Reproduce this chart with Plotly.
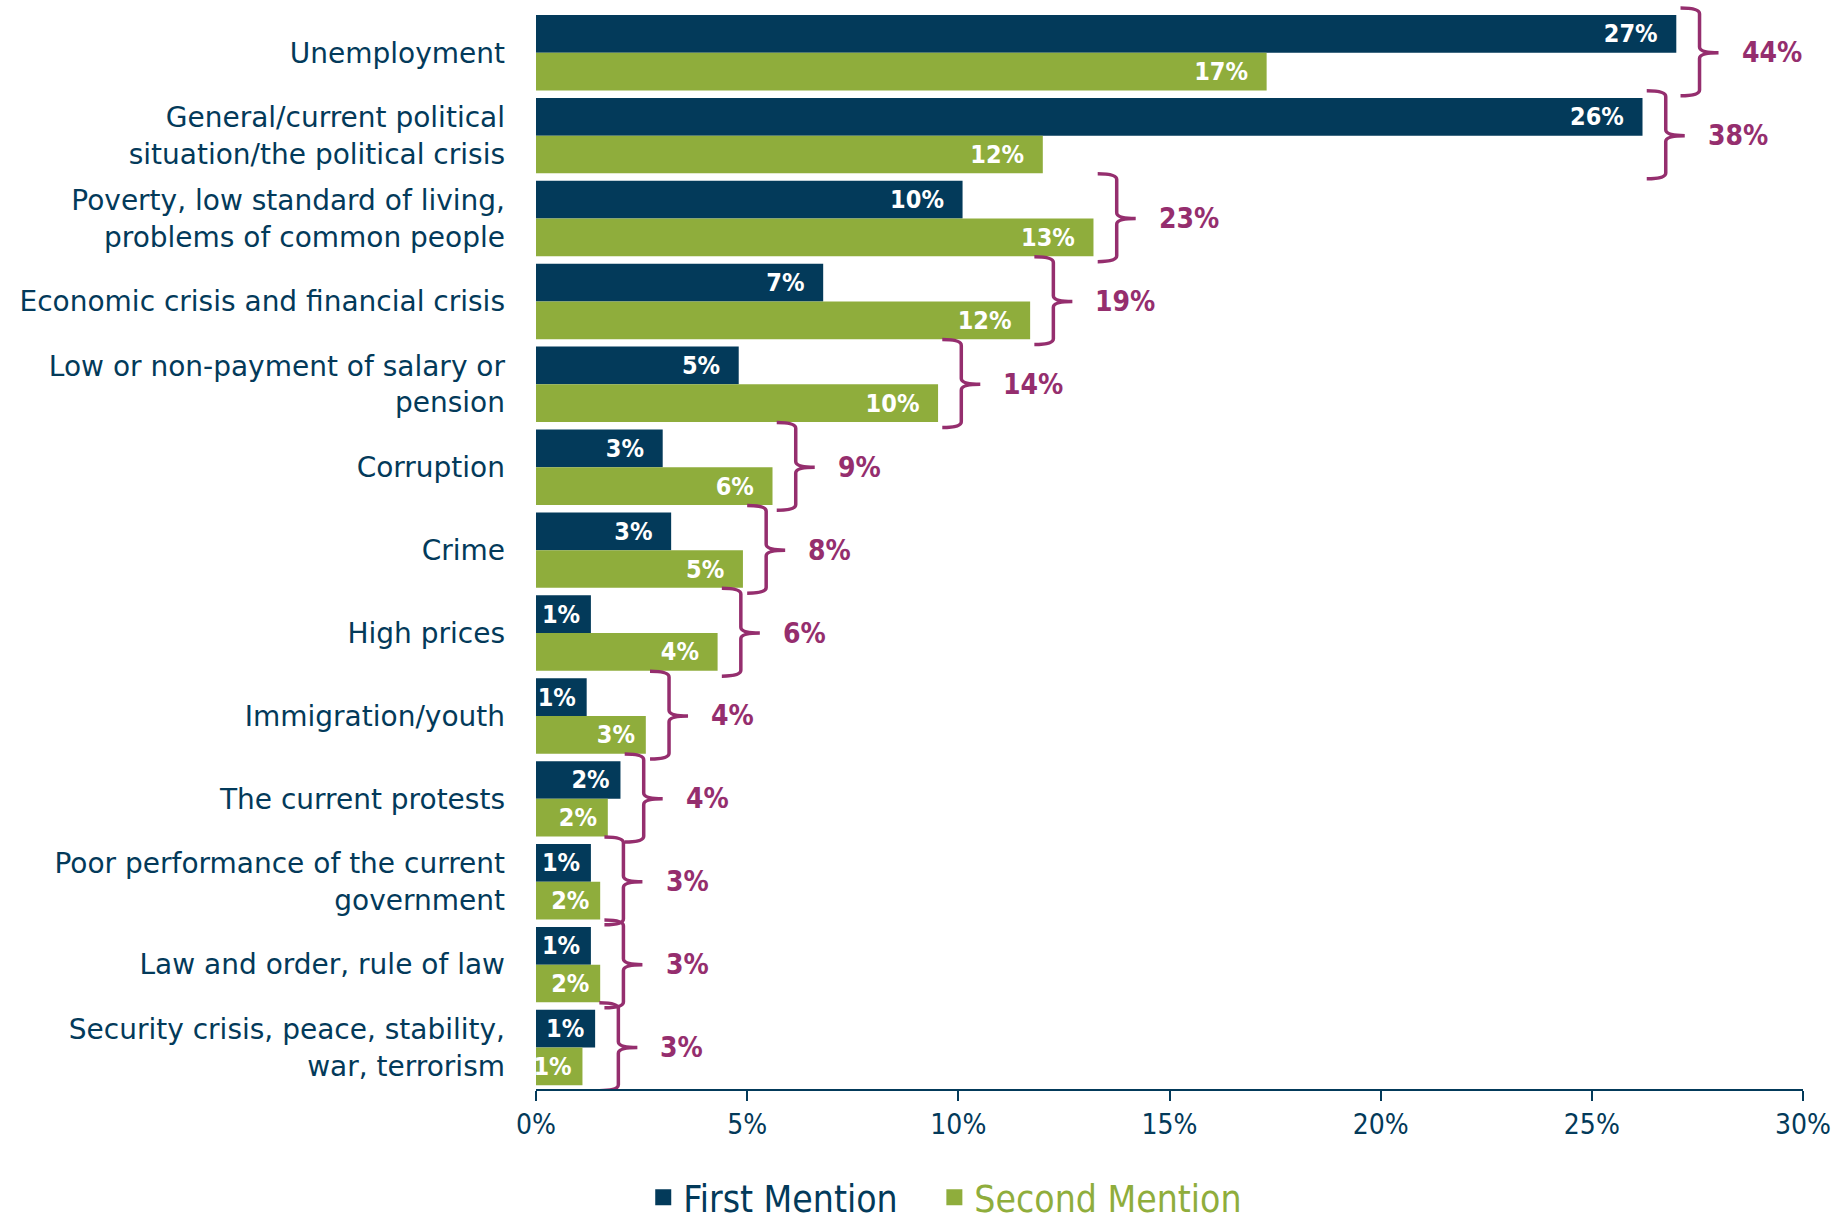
import plotly.graph_objects as go

categories = [
    "Unemployment",
    "General/current political<br>situation/the political crisis",
    "Poverty, low standard of living,<br>problems of common people",
    "Economic crisis and financial crisis",
    "Low or non-payment of salary or<br>pension",
    "Corruption",
    "Crime",
    "High prices",
    "Immigration/youth",
    "The current protests",
    "Poor performance of the current<br>government",
    "Law and order, rule of law",
    "Security crisis, peace, stability,<br>war, terrorism",
]
first_mention = [27.0, 26.2, 10.1, 6.8, 4.8, 3.0, 3.2, 1.3, 1.2, 2.0, 1.3, 1.3, 1.4]
second_mention = [17.3, 12.0, 13.2, 11.7, 9.52, 5.6, 4.9, 4.3, 2.6, 1.7, 1.52, 1.52, 1.1]
totals = [44, 38, 23, 19, 14, 9, 8, 6, 4, 4, 3, 3, 3]
x_ticks = [0, 5, 10, 15, 20, 25, 30]

NAVY = "#033A5A"
GREEN = "#8FAD3C"
PURPLE = "#952E6E"
FONT_C = "DejaVu Sans Condensed, DejaVu Sans, sans-serif"
FONT = "DejaVu Sans, sans-serif"

ypos = list(range(len(categories)))


def bar_text(vals):
    out = []
    for v in vals:
        pad = "\u00a0\u00a0" if v >= 3 else "\u00a0"
        out.append(f"{round(v)}%{pad}")
    return out


fig = go.Figure()
fig.add_trace(go.Bar(
    y=ypos, x=first_mention, orientation="h",
    name="First Mention", legendgroup="first", showlegend=False,
    marker=dict(color=NAVY, line=dict(width=0)),
    text=bar_text(first_mention),
    textposition="inside", insidetextanchor="end",
    textfont=dict(color="white", size=25, family=FONT_C, weight="bold"),
    cliponaxis=False,
))
fig.add_trace(go.Bar(
    y=ypos, x=second_mention, orientation="h",
    name="Second Mention", legendgroup="second", showlegend=False,
    marker=dict(color=GREEN, line=dict(width=0)),
    text=bar_text(second_mention),
    textposition="inside", insidetextanchor="end",
    textfont=dict(color="white", size=25, family=FONT_C, weight="bold"),
    cliponaxis=False,
))
# legend entries with larger square symbols
fig.add_trace(go.Scatter(
    x=[None], y=[None], mode="markers", legendgroup="first",
    name="First Mention\u00a0\u00a0\u00a0",
    marker=dict(symbol="square", size=20, color=NAVY),
))
fig.add_trace(go.Scatter(
    x=[None], y=[None], mode="markers", legendgroup="second",
    name="<span style='color:%s'>Second Mention</span>" % GREEN,
    marker=dict(symbol="square", size=20, color=GREEN),
))

# curly brackets with totals
shapes = []
annotations = []
for i, (f, s, t) in enumerate(zip(first_mention, second_mention, totals)):
    m = max(f, s)
    xl = m + 0.1
    xv = m + 0.55
    xt = m + 1.0
    yt = i - 0.54
    yb = i + 0.52
    ym = i
    ry = 0.07
    path = (f"M {xl},{yt} Q {xv},{yt} {xv},{yt+ry} L {xv},{ym-ry} "
            f"Q {xv},{ym} {xt},{ym} Q {xv},{ym} {xv},{ym+ry} "
            f"L {xv},{yb-ry} Q {xv},{yb} {xl},{yb}")
    shapes.append(dict(type="path", path=path, xref="x", yref="y",
                       line=dict(color=PURPLE, width=3.5)))
    annotations.append(dict(x=m + 1.5, y=i, xref="x", yref="y", text=f"<b>{t}%</b>",
                            showarrow=False, xanchor="left", yanchor="middle",
                            font=dict(color=PURPLE, size=28, family=FONT_C)))

fig.update_layout(
    width=1833, height=1222,
    margin=dict(l=536, r=30, t=3, b=133, autoexpand=False),
    paper_bgcolor="white", plot_bgcolor="white",
    barmode="group", bargap=0.09, bargroupgap=0,
    font=dict(family=FONT, color=NAVY, size=28),
    uniformtext=dict(minsize=25, mode="show"),
    shapes=shapes, annotations=annotations,
    showlegend=True,
    legend=dict(orientation="h", x=0.323, xanchor="center", y=-0.1, yanchor="middle",
                font=dict(size=37, family=FONT_C, color=NAVY),
                itemwidth=30, traceorder="normal", tracegroupgap=0),
    xaxis=dict(range=[0, 30], tickvals=x_ticks, ticktext=[f"{v}%" for v in x_ticks],
               showgrid=False, zeroline=False, showline=True, linecolor=NAVY, linewidth=1.5,
               ticks="outside", ticklen=10, tickcolor=NAVY, tickwidth=1.5,
               tickfont=dict(size=28, color=NAVY, family=FONT_C), fixedrange=True),
    yaxis=dict(range=[12.5, -0.6], tickvals=ypos, ticktext=categories,
               showgrid=False, zeroline=False, showline=False, ticks="",
               ticklabelstandoff=30,
               tickfont=dict(size=28, color=NAVY, family=FONT), fixedrange=True),
)

fig.write_html("out.html", config={"displayModeBar": False},
               post_script="document.body.style.margin='0';document.body.style.overflow='hidden';")
